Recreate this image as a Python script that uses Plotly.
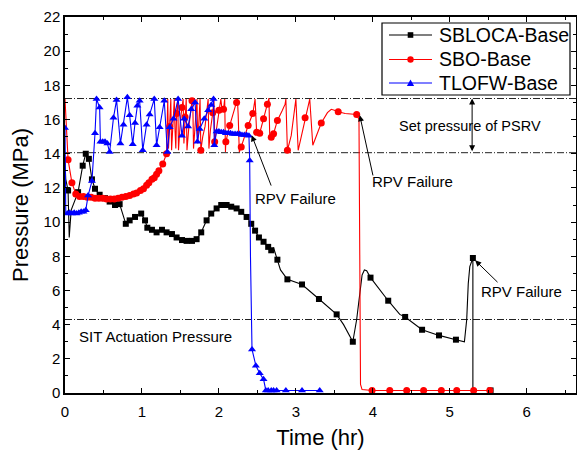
import plotly.graph_objects as go

# ---------------- data ----------------
series_names = ["SBLOCA-Base", "SBO-Base", "TLOFW-Base"]

# SBLOCA-Base line vertices
sbloca_t = [0.0, 0.01, 0.04, 0.055, 0.08, 0.17, 0.23, 0.27, 0.31, 0.35, 0.39, 0.45, 0.52, 0.58,
            0.65, 0.71, 0.76, 0.79, 0.84, 0.91, 0.99, 1.04, 1.07, 1.13, 1.19, 1.26, 1.32, 1.39,
            1.45, 1.52, 1.58, 1.65, 1.71, 1.77, 1.84, 1.90, 1.97, 2.03, 2.10, 2.16, 2.23, 2.29,
            2.36, 2.42, 2.47, 2.52, 2.58, 2.64, 2.68, 2.71, 2.76, 2.80, 2.89, 3.08, 3.30, 3.53,
            3.62, 3.74, 3.79, 3.83, 3.86, 3.89, 3.92, 3.97, 4.20, 4.35, 4.42, 4.64, 4.86, 5.08,
            5.19, 5.22, 5.24, 5.26, 5.30, 5.30, 5.53]
sbloca_p = [13.5, 12.5, 11.85, 9.1, 10.7, 11.75, 13.3, 14.0, 13.7, 12.5, 11.95, 11.6, 11.4, 11.2,
            11.0, 11.05, 10.4, 9.9, 10.1, 10.3, 10.5, 10.1, 9.67, 9.55, 9.4, 9.55, 9.4, 9.3,
            9.1, 8.95, 8.9, 8.9, 9.0, 9.4, 10.1, 10.5, 10.8, 11.0, 11.0, 10.9, 10.8, 10.6,
            10.3, 9.9, 9.5, 9.1, 8.85, 8.55, 8.35, 8.5, 7.8, 7.2, 6.65, 6.35, 5.5, 4.6,
            4.0, 3.0, 4.3, 5.8, 6.9, 7.2, 7.15, 6.75, 5.4, 4.6, 4.45, 3.7, 3.37, 3.12,
            3.0, 4.3, 6.4, 7.4, 7.9, 0.15, 0.15]
# SBLOCA-Base symbol positions
sbloca_mt = [0.04, 0.17, 0.23, 0.27, 0.31, 0.35, 0.39, 0.45, 0.52, 0.58, 0.65, 0.71, 0.79, 0.84,
             0.91, 0.99, 1.04, 1.07, 1.13, 1.19, 1.26, 1.32, 1.39, 1.45, 1.52, 1.58, 1.65, 1.71,
             1.77, 1.84, 1.90, 1.97, 2.03, 2.10, 2.16, 2.23, 2.29, 2.36, 2.42, 2.47, 2.52, 2.58,
             2.64, 2.68, 2.76, 2.89, 3.08, 3.30, 3.53, 3.74, 3.97, 4.20, 4.42, 4.64, 4.86, 5.08,
             5.30, 5.53]
sbloca_mp = [11.85, 11.75, 13.3, 14.0, 13.7, 12.5, 11.95, 11.6, 11.4, 11.2, 11.0, 11.05, 9.9, 10.1,
             10.3, 10.5, 10.1, 9.67, 9.55, 9.4, 9.55, 9.4, 9.3, 9.1, 8.95, 8.9, 8.9, 9.0,
             9.4, 10.1, 10.5, 10.8, 11.0, 11.0, 10.9, 10.8, 10.6, 10.3, 9.9, 9.5, 9.1, 8.85,
             8.55, 8.35, 7.8, 6.65, 6.35, 5.5, 4.6, 3.0, 6.75, 5.4, 4.45, 3.7, 3.37, 3.12,
             7.9, 0.15]

# SBO-Base line vertices
sbo_t = [0.0, 0.02, 0.04, 0.09, 0.14, 0.2, 0.3, 0.4, 0.5, 0.6, 0.7, 0.8, 0.87, 0.93, 0.98,
         1.02, 1.06, 1.09, 1.13, 1.16, 1.19, 1.22, 1.27, 1.32,
         1.335, 1.345, 1.36, 1.375, 1.385, 1.41, 1.42, 1.43, 1.44, 1.45, 1.465, 1.475, 1.50,
         1.52, 1.535, 1.545, 1.56, 1.575, 1.585, 1.61, 1.65, 1.66, 1.67, 1.70, 1.715, 1.725,
         1.745, 1.755, 1.765, 1.79, 1.82, 1.845, 1.86, 1.87, 1.89, 1.92, 1.935, 1.945, 1.975,
         2.00, 2.025, 2.04, 2.06, 2.075, 2.085, 2.09, 2.14, 2.19, 2.23, 2.24, 2.25, 2.265,
         2.29, 2.33, 2.38, 2.44, 2.47, 2.49, 2.53, 2.58, 2.63, 2.65, 2.66, 2.68, 2.71, 2.76,
         2.82, 2.86, 2.87, 2.89, 2.94, 2.99, 3.00, 3.03, 3.12, 3.18, 3.22, 3.33, 3.41, 3.46,
         3.50, 3.55, 3.64, 3.79, 3.82, 3.83, 3.84, 3.86, 3.99, 4.5, 5.0, 5.52]
sbo_p = [17.2, 15.0, 13.65, 12.3, 11.65, 11.5, 11.45, 11.4, 11.4, 11.35, 11.4, 11.5, 11.6, 11.7, 11.85,
         11.95, 12.15, 12.3, 12.5, 12.6, 12.8, 13.0, 13.4, 14.0,
         17.2, 14.3, 15.6, 17.2, 14.2, 16.0, 17.2, 15.35, 14.3, 16.35, 17.2, 14.2, 16.0,
         16.7, 17.2, 14.6, 16.15, 17.2, 14.2, 15.6, 17.1, 17.2, 14.3, 16.2, 17.2, 14.6,
         16.0, 17.2, 14.2, 15.0, 15.6, 16.6, 17.2, 14.3, 15.4, 16.4, 17.2, 14.7, 15.6,
         16.55, 17.2, 16.6, 16.6, 17.2, 14.1, 14.7, 15.65, 16.4, 17.0, 17.2, 16.3, 14.1,
         14.4, 15.0, 15.65, 16.35, 17.2, 15.25, 15.2, 16.05, 16.9, 17.25, 15.07, 14.97, 15.17, 15.95,
         16.5, 16.9, 17.2, 14.2, 15.07, 17.1, 17.2, 14.2, 16.1, 17.2, 14.5, 15.8, 16.4, 16.6,
         16.55, 16.45, 16.35, 16.3, 16.0, 8.0, 0.5, 0.2, 0.15, 0.15, 0.15, 0.15]
# SBO-Base symbol positions
sbo_mt = [0.04, 0.09, 0.14, 0.19, 0.24, 0.29, 0.34, 0.39, 0.44, 0.49, 0.54, 0.59, 0.64, 0.69,
          0.74, 0.79, 0.84, 0.89, 0.93, 0.98, 1.02, 1.06, 1.09, 1.13, 1.16, 1.19, 1.22, 1.27,
          1.32, 1.36, 1.45, 1.52, 1.56, 1.65, 1.765, 1.92, 1.945, 2.00, 2.06,
          2.09, 2.14, 2.23, 2.29, 2.38, 2.44, 2.49, 2.53, 2.58, 2.63, 2.68, 2.71, 2.76,
          2.89, 3.12, 3.33, 3.55, 3.79, 3.99, 4.22, 4.44, 4.66, 4.89, 5.09, 5.31, 5.52]
sbo_mp = [13.65, 12.3, 11.65, 11.5, 11.5, 11.45, 11.45, 11.4, 11.4, 11.4, 11.35, 11.35, 11.35, 11.4,
          11.45, 11.5, 11.55, 11.65, 11.7, 11.85, 11.95, 12.15, 12.3, 12.5, 12.6, 12.8, 13.0, 13.4,
          14.0, 15.6, 16.35, 16.7, 16.15, 17.1, 14.2, 16.4, 14.7, 16.55, 16.6,
          14.7, 15.65, 17.0, 14.4, 15.65, 16.35, 15.25, 15.2, 16.05, 16.9, 14.97, 15.17, 15.95,
          14.2, 16.1, 15.8, 16.45, 16.3, 0.15, 0.15, 0.15, 0.15, 0.15, 0.15, 0.15, 0.15]

# TLOFW-Base line vertices
tlofw_t = [0.0, 0.01, 0.03, 0.06, 0.09, 0.12, 0.15, 0.18, 0.21, 0.24, 0.27, 0.30, 0.35, 0.39,
           0.41, 0.45, 0.46, 0.49, 0.52, 0.55, 0.58, 0.63, 0.67, 0.72, 0.76, 0.81, 0.84, 0.88,
           0.91, 0.94, 0.97, 1.01, 1.06, 1.10, 1.16, 1.19, 1.23, 1.29, 1.33, 1.36, 1.41, 1.47,
           1.52, 1.55, 1.60, 1.64, 1.69, 1.72, 1.75, 1.81, 1.86, 1.90, 1.93, 1.94, 1.97, 2.00,
           2.03, 2.06, 2.09, 2.12, 2.15, 2.18, 2.21, 2.24, 2.27, 2.30, 2.33, 2.36, 2.39, 2.40,
           2.41, 2.42, 2.43, 2.48, 2.53, 2.58, 2.61, 2.64, 2.68, 2.71, 2.75, 2.87, 3.08, 3.31]
tlofw_p = [15.5, 10.5, 10.5, 10.55, 10.5, 10.55, 10.5, 10.55, 10.6, 10.6, 10.7, 11.55, 12.4, 15.2,
           17.2, 16.7, 14.7, 14.7, 14.7, 14.6, 14.1, 16.1, 17.15, 14.6, 15.7, 17.3, 16.25, 14.55,
           15.8, 16.8, 17.1, 14.2, 15.7, 16.3, 17.2, 14.5, 15.55, 17.1, 14.1, 15.55, 16.05, 17.2,
           15.05, 16.05, 15.6, 16.6, 17.0, 14.7, 15.45, 16.05, 16.55, 16.85, 17.2, 14.5, 15.3, 15.3,
           15.25, 15.25, 15.2, 15.2, 15.2, 15.15, 15.15, 15.15, 15.15, 15.1, 15.1, 15.1, 15.05, 13.6,
           8.0, 3.5, 2.55, 1.6, 1.15, 0.8, 0.15, 0.15, 0.15, 0.15, 0.15, 0.15, 0.15, 0.15]
# TLOFW-Base symbol positions (all vertices except the steep fall)
tlofw_skip = [0.01, 2.41, 2.42]

# reference lines and labels
psrv_high = 17.23
psrv_low = 14.06
sit_level = 4.3
x_title = "Time (hr)"
y_title = "Pressure (MPa)"

FONT = "Liberation Sans, Arial, sans-serif"
colors = ["#000000", "#ff0000", "#0000ff"]
symbols = ["square", "circle", "triangle-up"]
msizes = [6, 7, 7]

# figure geometry (pixels)
W, H = 577, 450
ML, MR, MT, MB = 65, 1, 17, 57
PW, PH = W - ML - MR, H - MT - MB


def fx(px):
    return (px - ML) / PW


def fy(py):
    return (H - MB - py) / PH


fig = go.Figure()

line_data = [(sbloca_t, sbloca_p), (sbo_t, sbo_p), (tlofw_t, tlofw_p)]
tl_mt = [t for t in tlofw_t if t not in tlofw_skip]
tl_mp = [p for t, p in zip(tlofw_t, tlofw_p) if t not in tlofw_skip]
marker_data = [(sbloca_mt, sbloca_mp), (sbo_mt, sbo_mp), (tl_mt, tl_mp)]

for i, name in enumerate(series_names):
    lx, ly = line_data[i]
    mx, my = marker_data[i]
    fig.add_trace(go.Scatter(x=lx, y=ly, mode="lines", line=dict(color=colors[i], width=1.1),
                             showlegend=False, hoverinfo="skip", name=name))
    fig.add_trace(go.Scatter(x=mx, y=my, mode="markers",
                             marker=dict(color=colors[i], symbol=symbols[i], size=msizes[i]),
                             showlegend=False, name=name))

dashpat = "7px,2px,1px,2px"
for lvl in [psrv_high, psrv_low, sit_level]:
    fig.add_shape(type="line", xref="paper", x0=0, x1=1, yref="y", y0=lvl, y1=lvl,
                  line=dict(color="#222222", width=1, dash=dashpat), layer="below")

# ---- legend box (drawn to match the reference's compact legend) ----
LEG_L, LEG_R, LEG_T, LEG_B = 382, 570, 23, 95
fig.add_shape(type="rect", xref="paper", yref="paper", x0=fx(LEG_L), x1=fx(LEG_R),
              y0=fy(LEG_B), y1=fy(LEG_T), line=dict(color="black", width=1.2),
              fillcolor="white", layer="above")
row_y = [35, 59.5, 83]
for i, name in enumerate(series_names):
    cy = row_y[i]
    fig.add_shape(type="line", xref="paper", yref="paper", x0=fx(389), x1=fx(432),
                  y0=fy(cy), y1=fy(cy), line=dict(color=colors[i], width=1.1), layer="above")
    cx = 410.5
    if i == 0:
        fig.add_shape(type="rect", xref="paper", yref="paper", x0=fx(cx - 2.8), x1=fx(cx + 2.8),
                      y0=fy(cy + 2.8), y1=fy(cy - 2.8), fillcolor=colors[i],
                      line=dict(width=0), layer="above")
    elif i == 1:
        fig.add_shape(type="circle", xref="paper", yref="paper", x0=fx(cx - 3.2), x1=fx(cx + 3.2),
                      y0=fy(cy + 3.2), y1=fy(cy - 3.2), fillcolor=colors[i],
                      line=dict(width=0), layer="above")
    else:
        path = (f"M {fx(cx - 3.6)} {fy(cy + 3)} L {fx(cx + 3.6)} {fy(cy + 3)} "
                f"L {fx(cx)} {fy(cy - 3.6)} Z")
        fig.add_shape(type="path", xref="paper", yref="paper", path=path,
                      fillcolor=colors[i], line=dict(width=0), layer="above")
    fig.add_annotation(xref="paper", yref="paper", x=fx(437), y=fy(cy), text=name,
                       showarrow=False, xanchor="left", yanchor="middle",
                       font=dict(family=FONT, size=19.5, color="black"))

ann_font = dict(family=FONT, size=15, color="black")
# texts
fig.add_annotation(x=5.26, y=15.6, text="Set pressure of PSRV", showarrow=False,
                   font=dict(family=FONT, size=14.5, color="black"))
fig.add_annotation(x=0.16, y=3.28, text="SIT Actuation Pressure", showarrow=False,
                   xanchor="left", font=ann_font)
fig.add_annotation(x=4.52, y=12.35, text="RPV Failure", showarrow=False, font=ann_font)
fig.add_annotation(x=3.0, y=11.37, text="RPV Failure", showarrow=False, font=ann_font)
fig.add_annotation(x=5.926, y=5.91, text="RPV Failure", showarrow=False, font=ann_font)

# arrows
arrows = [
    (5.29, psrv_high, 5.29, psrv_low, "end+start"),
    (3.83, 16.25, 4.006, 12.64, "end"),
    (2.426, 15.08, 2.686, 12.05, "end"),
    (5.33, 7.76, 5.64, 6.40, "end"),
]
for x, y, ax, ay, side in arrows:
    fig.add_annotation(x=x, y=y, ax=ax, ay=ay, xref="x", yref="y", axref="x", ayref="y",
                       text="", showarrow=True, arrowhead=2, arrowsize=1.2, arrowwidth=1,
                       arrowcolor="black", arrowside=side, standoff=0, startstandoff=0)

axis_common = dict(showline=True, linewidth=1.5, linecolor="black", mirror="allticks",
                   ticks="inside", ticklen=5, tickwidth=1.2, tickcolor="black",
                   showgrid=False, zeroline=False, automargin=False,
                   tickfont=dict(family=FONT, size=15, color="black"))

fig.update_layout(
    width=W, height=H,
    margin=dict(l=ML, r=MR, t=MT, b=MB),
    paper_bgcolor="white", plot_bgcolor="white",
    font=dict(family=FONT, color="black"),
    showlegend=False,
    xaxis=dict(range=[0, 6.64], tick0=0, dtick=1, ticklabelstandoff=4,
               minor=dict(ticks="inside", dtick=0.5, ticklen=3, tickcolor="black"),
               title=dict(text=x_title, font=dict(family=FONT, size=22), standoff=14),
               **axis_common),
    yaxis=dict(range=[0, 22], tick0=0, dtick=2,
               minor=dict(ticks="inside", dtick=1, ticklen=3, tickcolor="black"),
               title=dict(text=y_title, font=dict(family=FONT, size=22), standoff=9),
               **axis_common),
)

fig.write_html("out.html", config={"displayModeBar": False},
               post_script="document.body.style.margin='0px';")
